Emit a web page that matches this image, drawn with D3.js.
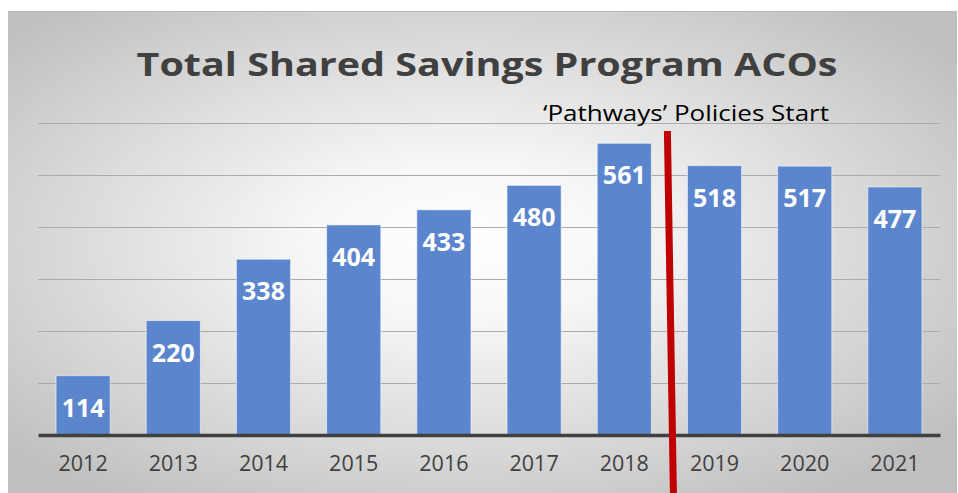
<!DOCTYPE html>
<html>
<head>
<meta charset="utf-8">
<script src="https://cdn.jsdelivr.net/npm/d3@7"></script>
<style>
  html, body { margin: 0; padding: 0; background: #fff; }
  #chart { width: 958px; height: 493px; }
</style>
</head>
<body>
<div id="chart"></div>
<script>
const years = ['2012','2013','2014','2015','2016','2017','2018','2019','2020','2021'];
const acoCounts = [114, 220, 338, 404, 433, 480, 561, 518, 517, 477];
const gridTicks = [100, 200, 300, 400, 500, 600];
const chartTitle = 'Total Shared Savings Program ACOs';
const markerYear = '2019';
const markerLabel = '\u2018Pathways\u2019 Policies Start';

const data = years.map((y, i) => ({ year: y, value: acoCounts[i] }));

const width = 958, height = 493;
const frame = { x: 8, y: 11, w: 949, h: 482 };
const margin = { top: 123, right: 18, bottom: 58, left: 38 };
const w = width - margin.left - margin.right;
const h = height - margin.top - margin.bottom;

const svg = d3.select('#chart').append('svg')
  .attr('width', width)
  .attr('height', height);

const defs = svg.append('defs');
const grad = defs.append('radialGradient')
  .attr('id', 'bg')
  .attr('cx', '48%').attr('cy', '48%').attr('r', '65%');
grad.append('stop').attr('offset', '0%').attr('stop-color', '#ffffff');
grad.append('stop').attr('offset', '25%').attr('stop-color', '#f7f7f7');
grad.append('stop').attr('offset', '100%').attr('stop-color', '#bfbfbf');

svg.append('rect')
  .attr('x', frame.x).attr('y', frame.y)
  .attr('width', frame.w).attr('height', frame.h)
  .attr('fill', 'url(#bg)');
svg.append('line')
  .attr('x1', frame.x).attr('x2', frame.x + frame.w)
  .attr('y1', frame.y + 0.5).attr('y2', frame.y + 0.5)
  .attr('stroke', '#b8b8b8');

const g = svg.append('g').attr('transform', `translate(${margin.left},${margin.top})`);

const x = d3.scaleBand()
  .domain(years)
  .range([0, w])
  .paddingInner(0.4)
  .paddingOuter(0.2);

const y = d3.scaleLinear()
  .domain([0, 600])
  .range([h, 0]);

// gridlines
g.append('g')
  .selectAll('line')
  .data(gridTicks)
  .join('line')
  .attr('x1', 0).attr('x2', w)
  .attr('y1', d => Math.round(y(d)) + 0.5)
  .attr('y2', d => Math.round(y(d)) + 0.5)
  .attr('stroke', '#ababab')
  .attr('stroke-width', 1);

// bars
g.append('g')
  .selectAll('rect')
  .data(data)
  .join('rect')
  .attr('x', d => x(d.year))
  .attr('y', d => y(d.value))
  .attr('width', x.bandwidth())
  .attr('height', d => h - y(d.value))
  .attr('fill', '#5b85cd')
  .attr('stroke', 'rgba(255,255,255,0.55)')
  .attr('stroke-width', 1);

// value labels
g.append('g')
  .selectAll('text')
  .data(data)
  .join('text')
  .attr('x', d => x(d.year) + x.bandwidth() / 2)
  .attr('y', d => y(d.value) + 41)
  .attr('text-anchor', 'middle')
  .attr('fill', '#fff')
  .attr('font-family', 'Open Sans, Liberation Sans, sans-serif')
  .attr('font-weight', 'bold')
  .attr('font-size', 25)
  .text(d => d.value);

// baseline axis
const xAxis = g.append('g')
  .attr('transform', `translate(0,${h})`)
  .call(d3.axisBottom(x).tickSize(0).tickPadding(21));
xAxis.select('.domain').attr('stroke', '#404040').attr('stroke-width', 3.5);
xAxis.selectAll('text')
  .attr('fill', '#404040')
  .attr('font-family', 'Open Sans, Liberation Sans, sans-serif')
  .attr('font-size', 21.5);

// marker line between 2018 and 2019
const boundary = x(markerYear) - x.step() * x.paddingInner() / 2;
g.append('line')
  .attr('x1', boundary - 2)
  .attr('y1', 8)
  .attr('x2', boundary + 4)
  .attr('y2', height - margin.top)
  .attr('stroke', '#c00000')
  .attr('stroke-width', 7);

// marker annotation
svg.append('text')
  .attr('x', 686)
  .attr('y', 121)
  .attr('text-anchor', 'middle')
  .attr('fill', '#000')
  .attr('font-family', 'Open Sans, Liberation Sans, sans-serif')
  .attr('font-size', 22.5)
  .attr('textLength', 286)
  .attr('lengthAdjust', 'spacingAndGlyphs')
  .text(markerLabel);

// title
svg.append('text')
  .attr('x', 487)
  .attr('y', 76)
  .attr('text-anchor', 'middle')
  .attr('fill', '#404040')
  .attr('font-family', 'Open Sans, Liberation Sans, sans-serif')
  .attr('font-weight', 'bold')
  .attr('font-size', 32)
  .attr('textLength', 701)
  .attr('lengthAdjust', 'spacingAndGlyphs')
  .text(chartTitle);
</script>
</body>
</html>
